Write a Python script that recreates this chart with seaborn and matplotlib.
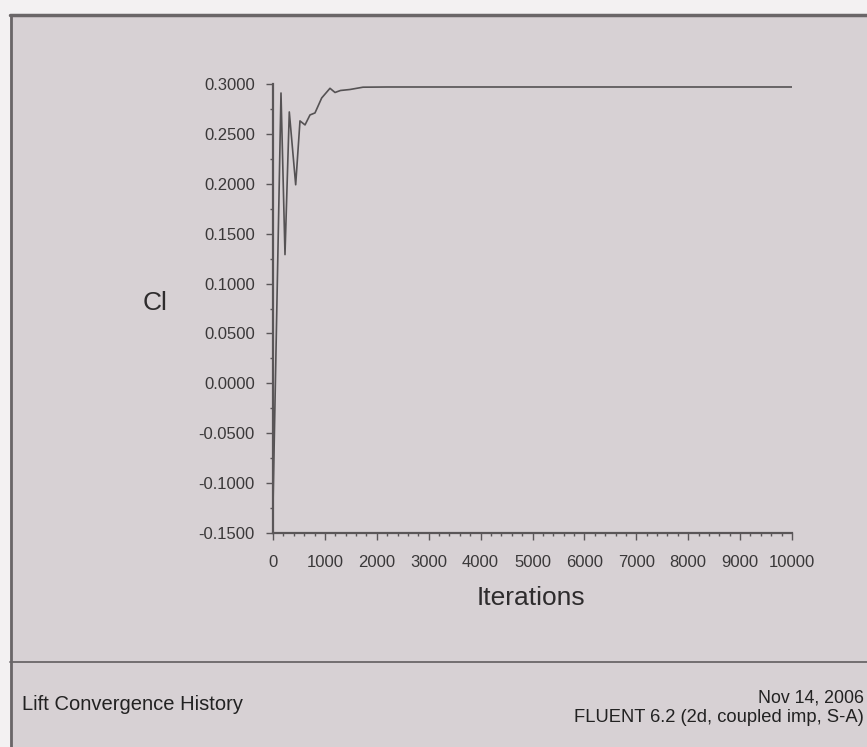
import matplotlib
matplotlib.use("Agg")
import matplotlib.pyplot as plt
from matplotlib.lines import Line2D
from matplotlib.patches import Rectangle
from matplotlib.ticker import MultipleLocator, FormatStrFormatter
import numpy as np
import pandas as pd
import seaborn as sns

# Lift coefficient history
iterations = [1, 154, 231, 314, 437, 520, 617, 713, 809, 938, 1098, 1195, 1300,
              1484, 1734, 2200, 3000, 5000, 8000, 10000]
cl_values = [-0.12, 0.291, 0.129, 0.272, 0.199, 0.263, 0.259, 0.269, 0.271, 0.286,
             0.2957, 0.2915, 0.2935, 0.2945, 0.2968, 0.297, 0.297, 0.297, 0.297, 0.297]

x_ticks = [0, 1000, 2000, 3000, 4000, 5000, 6000, 7000, 8000, 9000, 10000]
y_ticks = [0.30, 0.25, 0.20, 0.15, 0.10, 0.05, 0.0, -0.05, -0.10, -0.15]

title_left = "Lift Convergence History"
date_text = "Nov 14, 2006"
solver_text = "FLUENT 6.2 (2d, coupled imp, S-A)"

sns.set_style("white")
plt.rcParams["font.family"] = ["Liberation Sans", "DejaVu Sans"]

W, H = 867, 747
fig = plt.figure(figsize=(W / 100, H / 100), dpi=100)
fig.patch.set_facecolor("#f3f1f2")

# panel background and frame
fig.patches.append(Rectangle((10 / W, 0), 1, 1 - 15 / H, transform=fig.transFigure,
                             facecolor="#d7d1d4", edgecolor="none", zorder=-5))
fig.lines.append(Line2D([10 / W, 1], [1 - 15 / H, 1 - 15 / H], transform=fig.transFigure,
                        color="#6a6668", lw=2.5, zorder=-4))
fig.lines.append(Line2D([11 / W, 11 / W], [0, 1 - 15 / H], transform=fig.transFigure,
                        color="#6a6668", lw=2.0, zorder=-4))
fig.lines.append(Line2D([10 / W, 1], [1 - 662 / H, 1 - 662 / H], transform=fig.transFigure,
                        color="#6a6668", lw=1.3, zorder=-4))

x0, x1, y0, y1 = 273, 792, 84, 533
ax = fig.add_axes([x0 / W, 1 - y1 / H, (x1 - x0) / W, (y1 - y0) / H])
ax.set_facecolor("none")

df = pd.DataFrame({"Iterations": iterations, "Cl": cl_values})
sns.lineplot(data=df, x="Iterations", y="Cl", ax=ax, color="#555254", lw=1.2)

ax.set_xlim(0, 10000)
ax.set_ylim(-0.15, 0.30)
ax.set_xticks(x_ticks)
ax.set_yticks(y_ticks)
ax.xaxis.set_minor_locator(MultipleLocator(200))
ax.yaxis.set_minor_locator(MultipleLocator(0.025))
ax.yaxis.set_major_formatter(FormatStrFormatter("%.4f"))

for side in ("top", "right"):
    ax.spines[side].set_visible(False)
for side in ("left", "bottom"):
    ax.spines[side].set_color("#5a5658")
    ax.spines[side].set_linewidth(1.6)

ax.tick_params(axis="both", which="both", bottom=True, left=True, direction="out",
               color="#5a5658", width=1)
ax.tick_params(axis="both", which="major", length=5, labelsize=12,
               labelcolor="#3a3839")
ax.tick_params(axis="both", which="minor", length=2.5)
ax.tick_params(axis="y", pad=8)
ax.tick_params(axis="x", pad=11)

ax.set_xlabel("Iterations", fontsize=19, color="#2e2c2d")
ax.xaxis.set_label_coords((531 - x0) / (x1 - x0), (y1 - 598) / (y1 - y0))
ax.xaxis.label.set_va("center")
ax.set_ylabel("Cl", fontsize=19, color="#2e2c2d", rotation=0)
ax.yaxis.set_label_coords((155 - x0) / (x1 - x0), (y1 - 303) / (y1 - y0))
ax.yaxis.label.set_va("center")
ax.yaxis.label.set_ha("center")

fig.text(22 / W, 1 - 704 / H, title_left, fontsize=14.5, color="#222",
         ha="left", va="center")
fig.text(864 / W, 1 - 698 / H, date_text, fontsize=12.8, color="#222",
         ha="right", va="center")
fig.text(864 / W, 1 - 718 / H, solver_text, fontsize=13.2, color="#222",
         ha="right", va="center")

fig.savefig("out.png", dpi=100)
